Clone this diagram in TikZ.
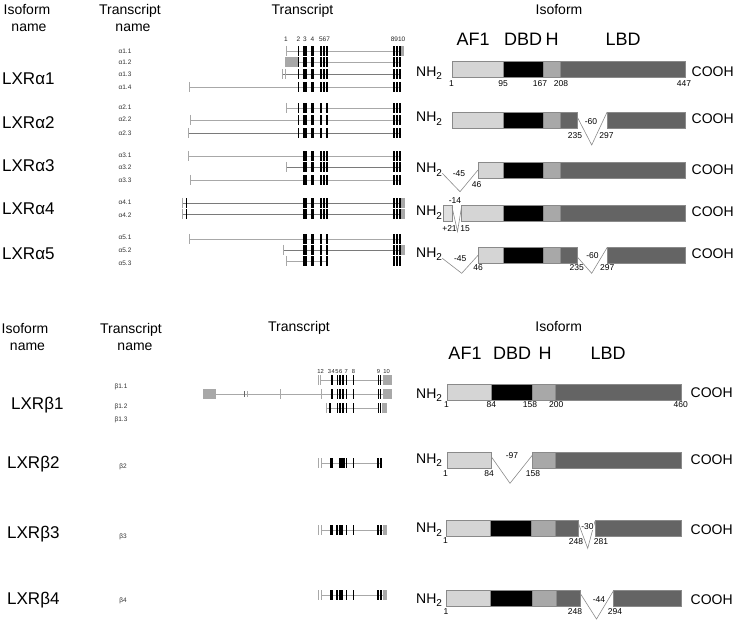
\documentclass[tikz,border=0pt]{standalone}
\usepackage{fontspec}
\setmainfont{Liberation Sans}
\definecolor{afc}{HTML}{D5D5D5}
\definecolor{hc}{HTML}{A8A8A8}
\definecolor{lbdc}{HTML}{646464}
\definecolor{edgec}{HTML}{8A8A8A}
\definecolor{intc}{HTML}{A8A8A8}
\definecolor{intd}{HTML}{7A7A7A}
\definecolor{utrc}{HTML}{A8A8A8}
\tikzset{
  hdr/.style={font=\fontsize{14}{16}\selectfont, anchor=base, inner sep=0pt},
  isoname/.style={font=\fontsize{17}{19}\selectfont, anchor=west, inner sep=0pt},
  tname/.style={font=\fontsize{6.5}{7}\selectfont, text=black!80, inner sep=0pt},
  exnum/.style={font=\fontsize{6.5}{7}\selectfont, inner sep=0pt, text=black!85},
  dom/.style={font=\fontsize{18}{20}\selectfont, inner sep=0pt},
  term/.style={font=\fontsize{14}{16}\selectfont, anchor=base west, inner sep=0pt},
  num/.style={font=\fontsize{8.5}{10}\selectfont, inner sep=0pt},
  intron/.style={draw=intc, line width=0.8pt},
  introndk/.style={draw=intd, line width=0.8pt},
  gtk/.style={draw=intc, line width=0.9pt},
  vline/.style={draw=black!45, line width=0.6pt},
  segbox/.style={draw=edgec, line width=0.5pt},
}
\newcommand\exbars[2]{\foreach \xa/\xb in {#2}{\fill[black] (\xa,#1-5) rectangle (\xb,#1+5);}}
\newcommand\gtick[2]{\draw[gtk] (#1,#2-5) -- (#1,#2+5);}
\newcommand\utrbox[3]{\fill[utrc] (#1,#3-5) rectangle (#2,#3+5);}
\newcommand\dseg[4]{\filldraw[segbox,fill=#4] (#1,#3) rectangle (#2,#3+16);}
\newcommand\nhtwo{NH\raisebox{-0.45ex}{\fontsize{10}{10}\selectfont 2}}
\newcommand\alphaA[1]{\exbars{#1}{297.8/299.4,303.3/306.7,310.8/314.2,319.9/321.7,322.9/324.7,326/328,392.8/394.6,395.8/397.6,398.8/400.6}}
\newcommand\alphaB[1]{\exbars{#1}{297.8/299.4,303.3/306.7,310.8/314.2,319.9/321.7,326/328,392.8/394.6,395.8/397.6,398.8/400.6}}
\newcommand\alphaC[1]{\exbars{#1}{303.3/306.7,310.8/314.2,319.9/321.7,322.9/324.7,326/328,392.8/394.6,395.8/397.6,398.8/400.6}}
\newcommand\alphaD[1]{\exbars{#1}{303.3/306.7,310.8/314.2,319.9/321.7,326/328,392.8/394.6,395.8/397.6,398.8/400.6}}
\newcommand\betaA[1]{\exbars{#1}{330.5/333,336.5/338.4,339/341,341.6/343.5,345.5/347,352.8/354,377.5/379.2,379.8/381.3}}
\newcommand\betaB[1]{\exbars{#1}{330/333,339.3/341.5,342.3/344.5,345.5/346.8,352.8/354,376.5/378.5,379.5/381.5}}
\newcommand\betaC[1]{\exbars{#1}{329.5/333.3,336/338,338.6/340.6,341.2/342.7,346/347.2,352.8/354,376.5/378.5,379.5/382}}
\begin{document}
\begin{tikzpicture}[x=1pt,y=-1pt]
\useasboundingbox (0,0) rectangle (736,620);
\fill[white] (0,0) rectangle (736,620);

% ---------------- headers (alpha)
\node[hdr] (h1a) at (27,15) {Isoform};
\node[hdr] (h1b) at (29,32) {name};
\node[hdr] (h2a) at (130,15) {Transcript};
\node[hdr] (h2b) at (133,32) {name};
\node[hdr] (h3) at (302.5,15) {Transcript};
\node[hdr] (h4) at (559,15) {Isoform};

% ---------------- isoform names (alpha)
\node[isoname] (la1) at (2,79) {LXRα1};
\node[isoname] (la2) at (2,123) {LXRα2};
\node[isoname] (la3) at (2,166) {LXRα3};
\node[isoname] (la4) at (2,209) {LXRα4};
\node[isoname] (la5) at (2,254) {LXRα5};

% ---------------- transcript names (alpha)
\node[tname] (t11) at (125,51) {α1.1};
\node[tname] (t12) at (125,62) {α1.2};
\node[tname] (t13) at (125,74) {α1.3};
\node[tname] (t14) at (125,87) {α1.4};
\node[tname] (t21) at (125,107) {α2.1};
\node[tname] (t22) at (125,119.5) {α2.2};
\node[tname] (t23) at (125,133) {α2.3};
\node[tname] (t31) at (125,155) {α3.1};
\node[tname] (t32) at (125,167) {α3.2};
\node[tname] (t33) at (125,180) {α3.3};
\node[tname] (t41) at (125,202) {α4.1};
\node[tname] (t42) at (125,215.5) {α4.2};
\node[tname] (t51) at (125,237.5) {α5.1};
\node[tname] (t52) at (125,250) {α5.2};
\node[tname] (t53) at (125,263) {α5.3};

% ---------------- exon numbers (alpha)
\node[exnum] (n1) at (286,39) {1};
\node[exnum] (n2) at (298.5,39) {2};
\node[exnum] (n3) at (305,39) {3};
\node[exnum] (n4) at (312.5,39) {4};
\node[exnum] (n567) at (324.5,39) {567};
\node[exnum] (n8910) at (398,39) {8910};

% ---------------- alpha transcripts
\draw[intron] (286,51) -- (400,51); \gtick{286}{51} \alphaA{51} \utrbox{400.6}{404}{51}
\utrbox{285}{298}{62} \draw[intron] (298,62) -- (400,62); \alphaA{62}
\draw[introndk] (282,74) -- (400,74); \gtick{282}{74} \gtick{285}{74} \alphaA{74}
\draw[intron] (189,87) -- (400,87); \gtick{189}{87} \alphaA{87}
\draw[intron] (286,108) -- (400,108); \gtick{286}{108} \alphaB{108}
\draw[intron] (190,120) -- (400,120); \gtick{190}{120} \alphaB{120}
\draw[introndk] (188,133) -- (400,133); \gtick{188}{133} \alphaB{133}
\draw[intron] (188,156) -- (400,156); \gtick{188}{156} \alphaC{156}
\draw[introndk] (286,167) -- (400,167); \gtick{286}{167} \alphaC{167}
\draw[intron] (190.5,180) -- (400,180); \gtick{190.5}{180} \alphaC{180}
\draw[introndk] (183,203) -- (400,203); \gtick{182.7}{203} \exbars{203}{186.2/187.3} \alphaC{203} \utrbox{400.6}{405}{203}
\draw[introndk] (183,214) -- (400,214); \gtick{182.7}{214} \exbars{214}{186.2/187.3} \alphaC{214} \utrbox{400.6}{405}{214}
\draw[intron] (189,239) -- (400,239); \gtick{189}{239} \alphaD{239}
\draw[introndk] (283,250) -- (400,250); \gtick{283}{250} \alphaD{250} \utrbox{400.6}{405}{250}
\draw[intron] (286,261) -- (328,261); \gtick{286}{261} \alphaD{261}

% ---------------- domain labels (alpha)
\node[dom] (af1a) at (473,39) {AF1};
\node[dom] (dbda) at (523,39) {DBD};
\node[dom] (hha) at (552,39) {H};
\node[dom] (lbda) at (623,39) {LBD};

% ---------------- alpha isoforms
\dseg{452}{503}{61}{afc} \dseg{503}{543}{61}{black} \dseg{543}{560}{61}{hc} \dseg{560}{685}{61}{lbdc}
\node[term] (nh1) at (416,76.5) {\nhtwo};
\node[term] (co1) at (691.5,77) {COOH};
\node[num] (a1n1) at (451.5,83.3) {1};
\node[num] (a1n2) at (503,83.3) {95};
\node[num] (a1n3) at (540,83.3) {167};
\node[num] (a1n4) at (561,83.3) {208};
\node[num] (a1n5) at (684,83.3) {447};

\dseg{452}{503}{112}{afc} \dseg{503}{543}{112}{black} \dseg{543}{560}{112}{hc} \dseg{560}{577}{112}{lbdc} \dseg{607}{685}{112}{lbdc}
\coordinate (v2a) at (577,116.5); \coordinate (v2b) at (591.7,145); \coordinate (v2c) at (607,112.3);
\draw[vline] (v2a) -- (v2b) -- (v2c);
\node[term] (nh2) at (416,122) {\nhtwo};
\node[term] (co2) at (691.5,124) {COOH};
\node[num] (a2n1) at (591,121.5) {-60};
\node[num] (a2n2) at (575,136) {235};
\node[num] (a2n3) at (606.5,136) {297};

\dseg{478}{503}{162}{afc} \dseg{503}{543}{162}{black} \dseg{543}{560}{162}{hc} \dseg{560}{685}{162}{lbdc}
\coordinate (v3a) at (442.3,173.3); \coordinate (v3b) at (460,191.7); \coordinate (v3c) at (478,170);
\draw[vline] (v3a) -- (v3b) -- (v3c);
\node[term] (nh3) at (416,172.7) {\nhtwo};
\node[term] (co3) at (691.5,175) {COOH};
\node[num] (a3n1) at (459,173.3) {-45};
\node[num] (a3n2) at (476.7,184.3) {46};

\filldraw[segbox,fill=black!12] (443,205.5) rectangle (452,221.5);
\dseg{461.7}{503}{205.5}{afc} \dseg{503}{543}{205.5}{black} \dseg{543}{560}{205.5}{hc} \dseg{560}{685}{205.5}{lbdc}
\coordinate (v4a) at (452,207); \coordinate (v4b) at (457.5,231.5); \coordinate (v4c) at (461.7,206);
\draw[vline] (v4a) -- (v4b) -- (v4c);
\node[term] (nh4) at (416,216) {\nhtwo};
\node[term] (co4) at (691.5,216.7) {COOH};
\node[num, fill=white, inner sep=0.5pt] (a4n1) at (455,200.5) {-14};
\node[num] (a4n2) at (449.5,228.3) {+21};
\node[num] (a4n3) at (465,228.3) {15};

\dseg{478}{503}{247}{afc} \dseg{503}{543}{247}{black} \dseg{543}{560}{247}{hc} \dseg{560}{577}{247}{lbdc} \dseg{607}{685}{247}{lbdc}
\coordinate (v5a) at (442.3,258.3); \coordinate (v5b) at (461.7,273.3); \coordinate (v5c) at (478.3,255);
\draw[vline] (v5a) -- (v5b) -- (v5c);
\coordinate (v5d) at (577,256.7); \coordinate (v5e) at (591.7,273.3); \coordinate (v5f) at (607.3,247.3);
\draw[vline] (v5d) -- (v5e) -- (v5f);
\node[term] (nh5) at (416,257.3) {\nhtwo};
\node[term] (co5) at (691.5,259) {COOH};
\node[num] (a5n1) at (460.3,258.3) {-45};
\node[num] (a5n2) at (478,267.7) {46};
\node[num] (a5n3) at (592.5,256) {-60};
\node[num] (a5n4) at (576.7,267.7) {235};
\node[num] (a5n5) at (607.3,267.7) {297};

% ---------------- headers (beta)
\node[hdr] (g1a) at (25,333) {Isoform};
\node[hdr] (g1b) at (27.5,350) {name};
\node[hdr] (g2a) at (131,333) {Transcript};
\node[hdr] (g2b) at (135,350) {name};
\node[hdr] (g3) at (299,331.7) {Transcript};
\node[hdr] (g4) at (558.7,331.7) {Isoform};

% ---------------- isoform names (beta)
\node[isoname] (lb1) at (11,405) {LXRβ1};
\node[isoname] (lb2) at (7,464) {LXRβ2};
\node[isoname] (lb3) at (7,534) {LXRβ3};
\node[isoname] (lb4) at (7,600) {LXRβ4};

% ---------------- transcript names (beta)
\node[tname] (s11) at (121,387) {β1.1};
\node[tname] (s12) at (121,407) {β1.2};
\node[tname] (s13) at (121,420) {β1.3};
\node[tname] (s2) at (123,467) {β2};
\node[tname] (s3) at (123,537) {β3};
\node[tname] (s4) at (123,601) {β4};

% ---------------- exon numbers (beta)
\begin{scope}[every node/.style={font=\fontsize{5.8}{6}\selectfont, inner sep=0pt, text=black!85}]
\node (m1) at (319,371.7) {1};
\node (m2) at (322.3,371.7) {2};
\node (m3) at (329.5,371.7) {3};
\node (m4) at (333.2,371.7) {4};
\node (m5) at (337,371.7) {5};
\node (m6) at (340.8,371.7) {6};
\node (m7) at (346.3,371.7) {7};
\node (m8) at (353.4,371.7) {8};
\node (m9) at (378.5,371.7) {9};
\node (m10) at (386.5,371.7) {10};
\end{scope}

% ---------------- beta transcripts
\draw[intron] (321,380) -- (383,380); \gtick{318.7}{380} \gtick{320.9}{380} \betaA{380} \utrbox{383}{391.7}{380}
\utrbox{203.3}{216}{394} \draw[intron] (216,394) -- (383,394);
\draw[draw=black!60,line width=0.9pt] (244,391) -- (244,397); \draw[gtk] (247,391) -- (247,397);
\gtick{280}{394} \gtick{321}{394} \betaA{394} \utrbox{383}{391.7}{394}
\draw[intron] (326,408) -- (377.5,408); \gtick{326}{408} \exbars{408}{329.3/331,336.5/338.4,339/341,341.6/343.5,345.5/347,352.8/354,377.5/379.2,379.8/381.3} \utrbox{382}{386.5}{408}
\draw[intron] (321,463.3) -- (381.5,463.3); \gtick{318.3}{463.3} \gtick{321}{463.3} \betaB{463.3}
\draw[intron] (321,530) -- (383,530); \gtick{318.3}{530} \gtick{321}{530} \betaC{530} \utrbox{383}{387.3}{530}
\draw[intron] (321,595) -- (383,595); \gtick{318.3}{595} \gtick{321}{595} \betaC{595} \utrbox{383}{387.3}{595}

% ---------------- domain labels (beta)
\node[dom] (af1b) at (465,353) {AF1};
\node[dom] (dbdb) at (512,353) {DBD};
\node[dom] (hhb) at (545,353) {H};
\node[dom] (lbdb) at (608,353) {LBD};

% ---------------- beta isoforms
\dseg{447}{491.5}{384}{afc} \dseg{491.5}{532.5}{384}{black} \dseg{532.5}{555.5}{384}{hc} \dseg{555.5}{681.5}{384}{lbdc}
\node[term] (nhb1) at (416,398) {\nhtwo};
\node[term] (cob1) at (690.5,397) {COOH};
\node[num] (b1n1) at (446.5,405) {1};
\node[num] (b1n2) at (491.3,405) {84};
\node[num] (b1n3) at (530,405) {158};
\node[num] (b1n4) at (556.3,405) {200};
\node[num] (b1n5) at (680.8,405) {460};

\dseg{447}{491.5}{452}{afc} \dseg{532.5}{555.5}{452}{hc} \dseg{555.5}{681.5}{452}{lbdc}
\coordinate (w2a) at (491.5,457); \coordinate (w2b) at (510,483.3); \coordinate (w2c) at (532.5,455);
\draw[vline] (w2a) -- (w2b) -- (w2c);
\node[term] (nhb2) at (416,463) {\nhtwo};
\node[term] (cob2) at (690.5,464) {COOH};
\node[num] (b2n0) at (512,456) {-97};
\node[num] (b2n1) at (445.5,473.3) {1};
\node[num] (b2n2) at (489,473.3) {84};
\node[num] (b2n3) at (533,473.3) {158};

\dseg{446}{490}{520.5}{afc} \dseg{490}{531.7}{520.5}{black} \dseg{531.7}{555.7}{520.5}{hc} \dseg{555.7}{578.3}{520.5}{lbdc} \dseg{595}{681}{520.5}{lbdc}
\coordinate (w3a) at (578.3,523); \coordinate (w3b) at (587.7,548.3); \coordinate (w3c) at (595,521);
\draw[vline] (w3a) -- (w3b) -- (w3c);
\node[term] (nhb3) at (416,532.7) {\nhtwo};
\node[term] (cob3) at (690.5,534) {COOH};
\node[num] (b3n1) at (445.5,541) {1};
\node[num, fill=white, inner sep=0.5pt] (b3n2) at (587.5,526.7) {-30};
\node[num] (b3n3) at (576,541.7) {248};
\node[num] (b3n4) at (601,541.7) {281};

\dseg{446}{490}{590}{afc} \dseg{490}{532}{590}{black} \dseg{532}{556}{590}{hc} \dseg{556}{580}{590}{lbdc} \dseg{613.3}{681}{590}{lbdc}
\coordinate (w4a) at (580,593); \coordinate (w4b) at (596.5,619); \coordinate (w4c) at (613.3,591);
\draw[vline] (w4a) -- (w4b) -- (w4c);
\node[term] (nhb4) at (416,603) {\nhtwo};
\node[term] (cob4) at (690.5,604) {COOH};
\node[num] (b4n0) at (599,600) {-44};
\node[num] (b4n1) at (446,612) {1};
\node[num] (b4n2) at (575,612) {248};
\node[num] (b4n3) at (615,612) {294};
\end{tikzpicture}
\end{document}
